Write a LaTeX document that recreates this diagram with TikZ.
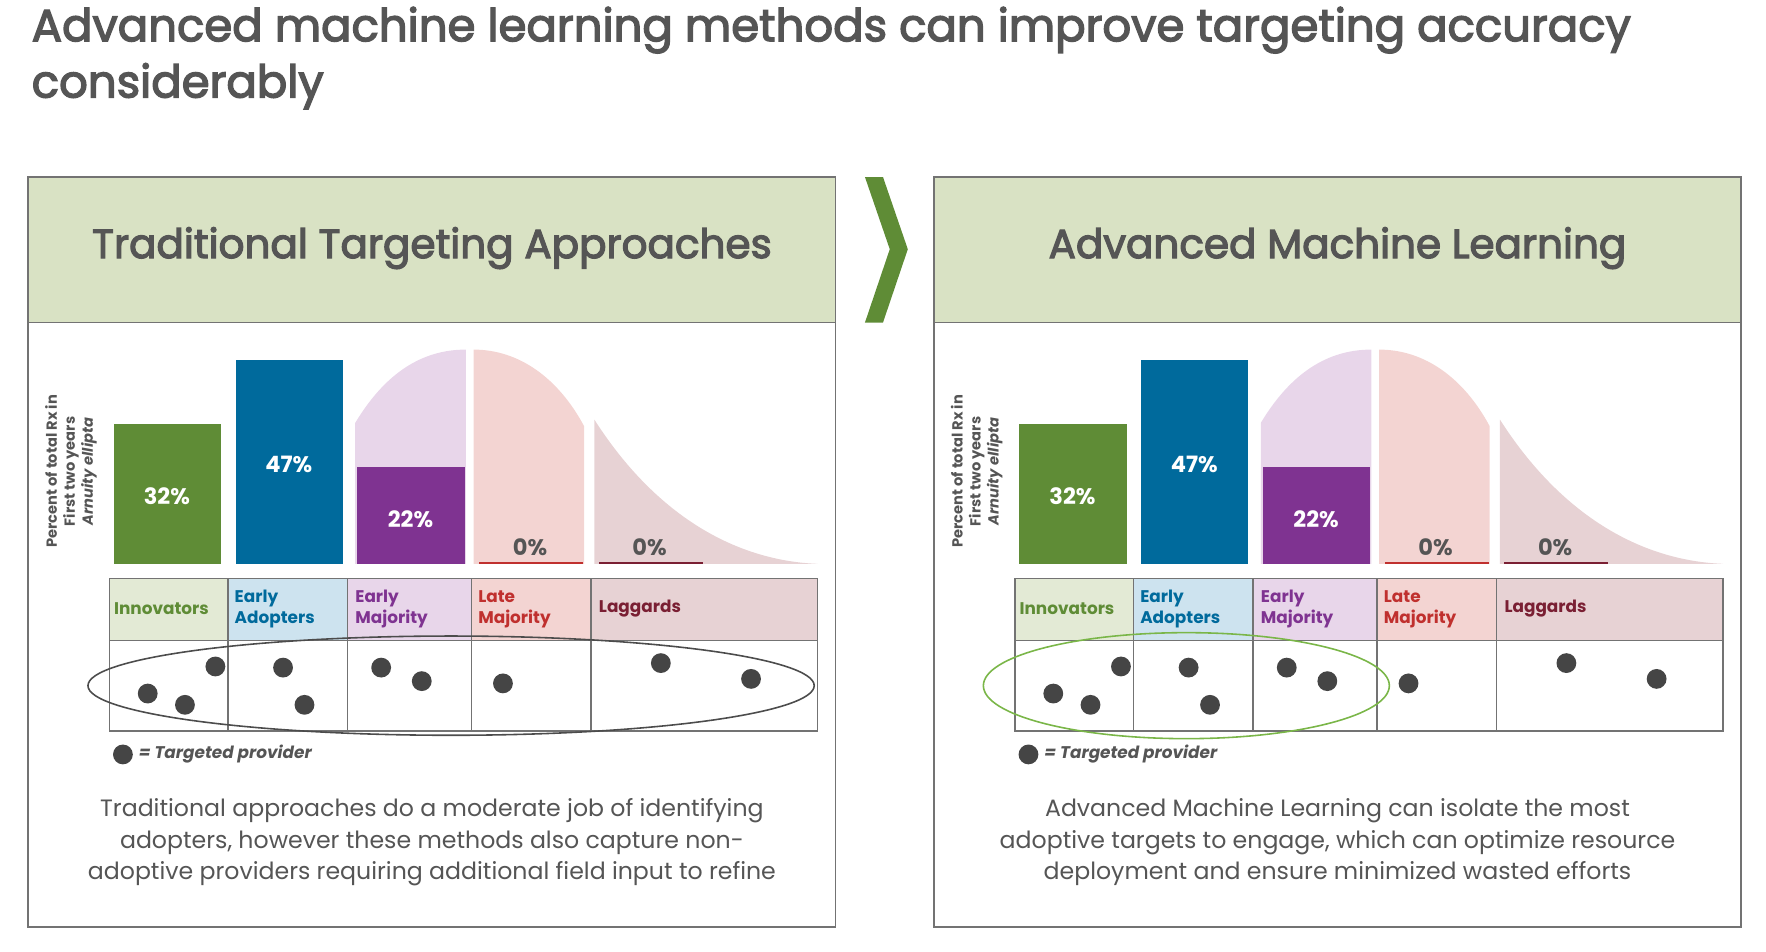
\documentclass[tikz,border=0pt]{standalone}
\usepackage{fontspec}
\setmainfont{Poppins}
\newfontfamily\medfont[FakeBold=3]{Poppins}
\definecolor{ink}{HTML}{555555}
\definecolor{hdr}{HTML}{D9E2C4}
\definecolor{cgreen}{HTML}{5F8C36}
\definecolor{cblue}{HTML}{006A9C}
\definecolor{cpurp}{HTML}{7F3391}
\definecolor{lpurp}{HTML}{E8D6EA}
\definecolor{lpink}{HTML}{F3D4D2}
\definecolor{lrose}{HTML}{E7D2D4}
\definecolor{cred}{HTML}{C0302E}
\definecolor{cdred}{HTML}{7A1F33}
\definecolor{hgreen}{HTML}{E3EAD5}
\definecolor{hblue}{HTML}{CDE3EF}
\definecolor{ellg}{HTML}{7AB648}
\definecolor{dotc}{HTML}{454545}
\newcommand\fpx[1]{\fontsize{\dimexpr1.42pt*#1\relax}{\dimexpr1.75pt*#1\relax}\selectfont}
\newcommand\fpxs[2]{\fontsize{\dimexpr1.42pt*#1\relax}{\dimexpr1.42pt*#2\relax}\selectfont}
\tikzset{
 pct/.style={text=white,font=\fpx{20}\bfseries},
 zpct/.style={text=ink,font=\fpx{20}\bfseries},
 hlab/.style={anchor=west,align=left,font=\fpx{15}\bfseries,inner sep=0pt},
 dotp/.style={circle,fill=dotc,inner sep=0pt,minimum size=25pt},
 grid/.style={draw=black!55,line width=2},
}
\newcommand\mypanel[3]{%
\begin{scope}[shift={(#2,0)}]
\draw[black!55,line width=2] (25,157) rectangle (741,822);
\fill[hdr] (26,158) rectangle (740,286);
\draw[black!55,line width=2] (25,286) -- (741,286);
\node (#1title) at (383,220) {\fpx{36}\medfont\color{ink}#3};
% chart
\fill[lpurp] (315,500) -- (315,375) .. controls (345,325) and (380,310) .. (413,310) -- (413,500) -- cycle;
\fill[lpink] (420,500) -- (420,310) .. controls (460,310) and (495,335) .. (518,378) -- (518,500) -- cycle;
\fill[lrose] (527,500) -- (527,372) .. controls (580,455) and (650,497) .. (725,500) -- cycle;
\fill[cgreen] (101,376) rectangle (196,500);
\fill[cblue] (209,319) rectangle (304,500);
\fill[cpurp] (317,414) rectangle (412,500);
\draw[cred,line width=2] (425,499) -- (517,499);
\draw[cdred,line width=2] (531,499) -- (623,499);
\node[pct] (#1p1) at (148,440) {32\%};
\node[pct] (#1p2) at (256,412) {47\%};
\node[pct] (#1p3) at (364,460) {22\%};
\node[zpct] (#1p4) at (470,485) {0\%};
\node[zpct] (#1p5) at (576,485) {0\%};
\node[rotate=90,align=center,text=ink,font=\fpxs{13}{16}\bfseries,inner sep=0pt] (#1ax) at (63,418) {Percent of total Rx in\\First two years\\\textit{Arnuity ellipta}};
% table
\fill[hgreen] (97,513) rectangle (202,568);
\fill[hblue] (202,513) rectangle (308,568);
\fill[lpurp] (308,513) rectangle (418,568);
\fill[lpink] (418,513) rectangle (524,568);
\fill[lrose] (524,513) rectangle (725,568);
\draw[grid] (97,513) rectangle (725,648);
\draw[grid] (97,568) -- (725,568);
\foreach \x in {202,308,418,524} \draw[grid] (\x,513) -- (\x,648);
\node[hlab,text=cgreen] (#1h1) at (101,540) {Innovators};
\node[hlab,text=cblue] (#1h2) at (208,540) {Early\\Adopters};
\node[hlab,text=cpurp] (#1h3) at (315,540) {Early\\Majority};
\node[hlab,text=cred] (#1h4) at (424,540) {Late\\Majority};
\node[hlab,text=cdred] (#1h5) at (531,540) {Laggards};
\foreach \x/\y [count=\i] in {131/615,164/625,191/591,251/592,270/625,338/592,374/604,446/606,586/588,666/602}
  \node[dotp] (#1d\i) at (\x,\y) {};
\node[dotp] (#1ld) at (109,669) {};
\node[anchor=west,text=ink,font=\fpx{15}\bfseries\itshape,inner sep=0pt] (#1lt) at (123,669) {= Targeted provider};
\end{scope}}
\begin{document}
\begin{tikzpicture}[x=0.05cm,y=-0.05cm]
\useasboundingbox (0,0) rectangle (1566,844);
\node[anchor=north west,align=left,text=ink,font=\fpxs{40}{50}\medfont,inner sep=0pt] (maintitle) at (28,6) {Advanced machine learning methods can improve targeting accuracy\\considerably};
\mypanel{L}{0}{Traditional Targeting Approaches}
\mypanel{R}{803}{Advanced Machine Learning}
\fill[cgreen] (767,157) -- (783,157) -- (805,221) -- (783,286) -- (767,286) -- (789,221) -- cycle;
\draw[black!70,line width=2] (400,608) ellipse [x radius=322,y radius=44];
\draw[ellg,line width=2] (1052,608) ellipse [x radius=180,y radius=47];
\node[align=center,text=ink,font=\fpxs{21}{28}] (Ltext) at (383,747) {Traditional approaches do a moderate job of identifying\\adopters, however these methods also capture non-\\adoptive providers requiring additional field input to refine};
\node[align=center,text=ink,font=\fpxs{21}{28}] (Rtext) at (1186,747) {Advanced Machine Learning can isolate the most\\adoptive targets to engage, which can optimize resource\\deployment and ensure minimized wasted efforts};
\end{tikzpicture}
\end{document}
